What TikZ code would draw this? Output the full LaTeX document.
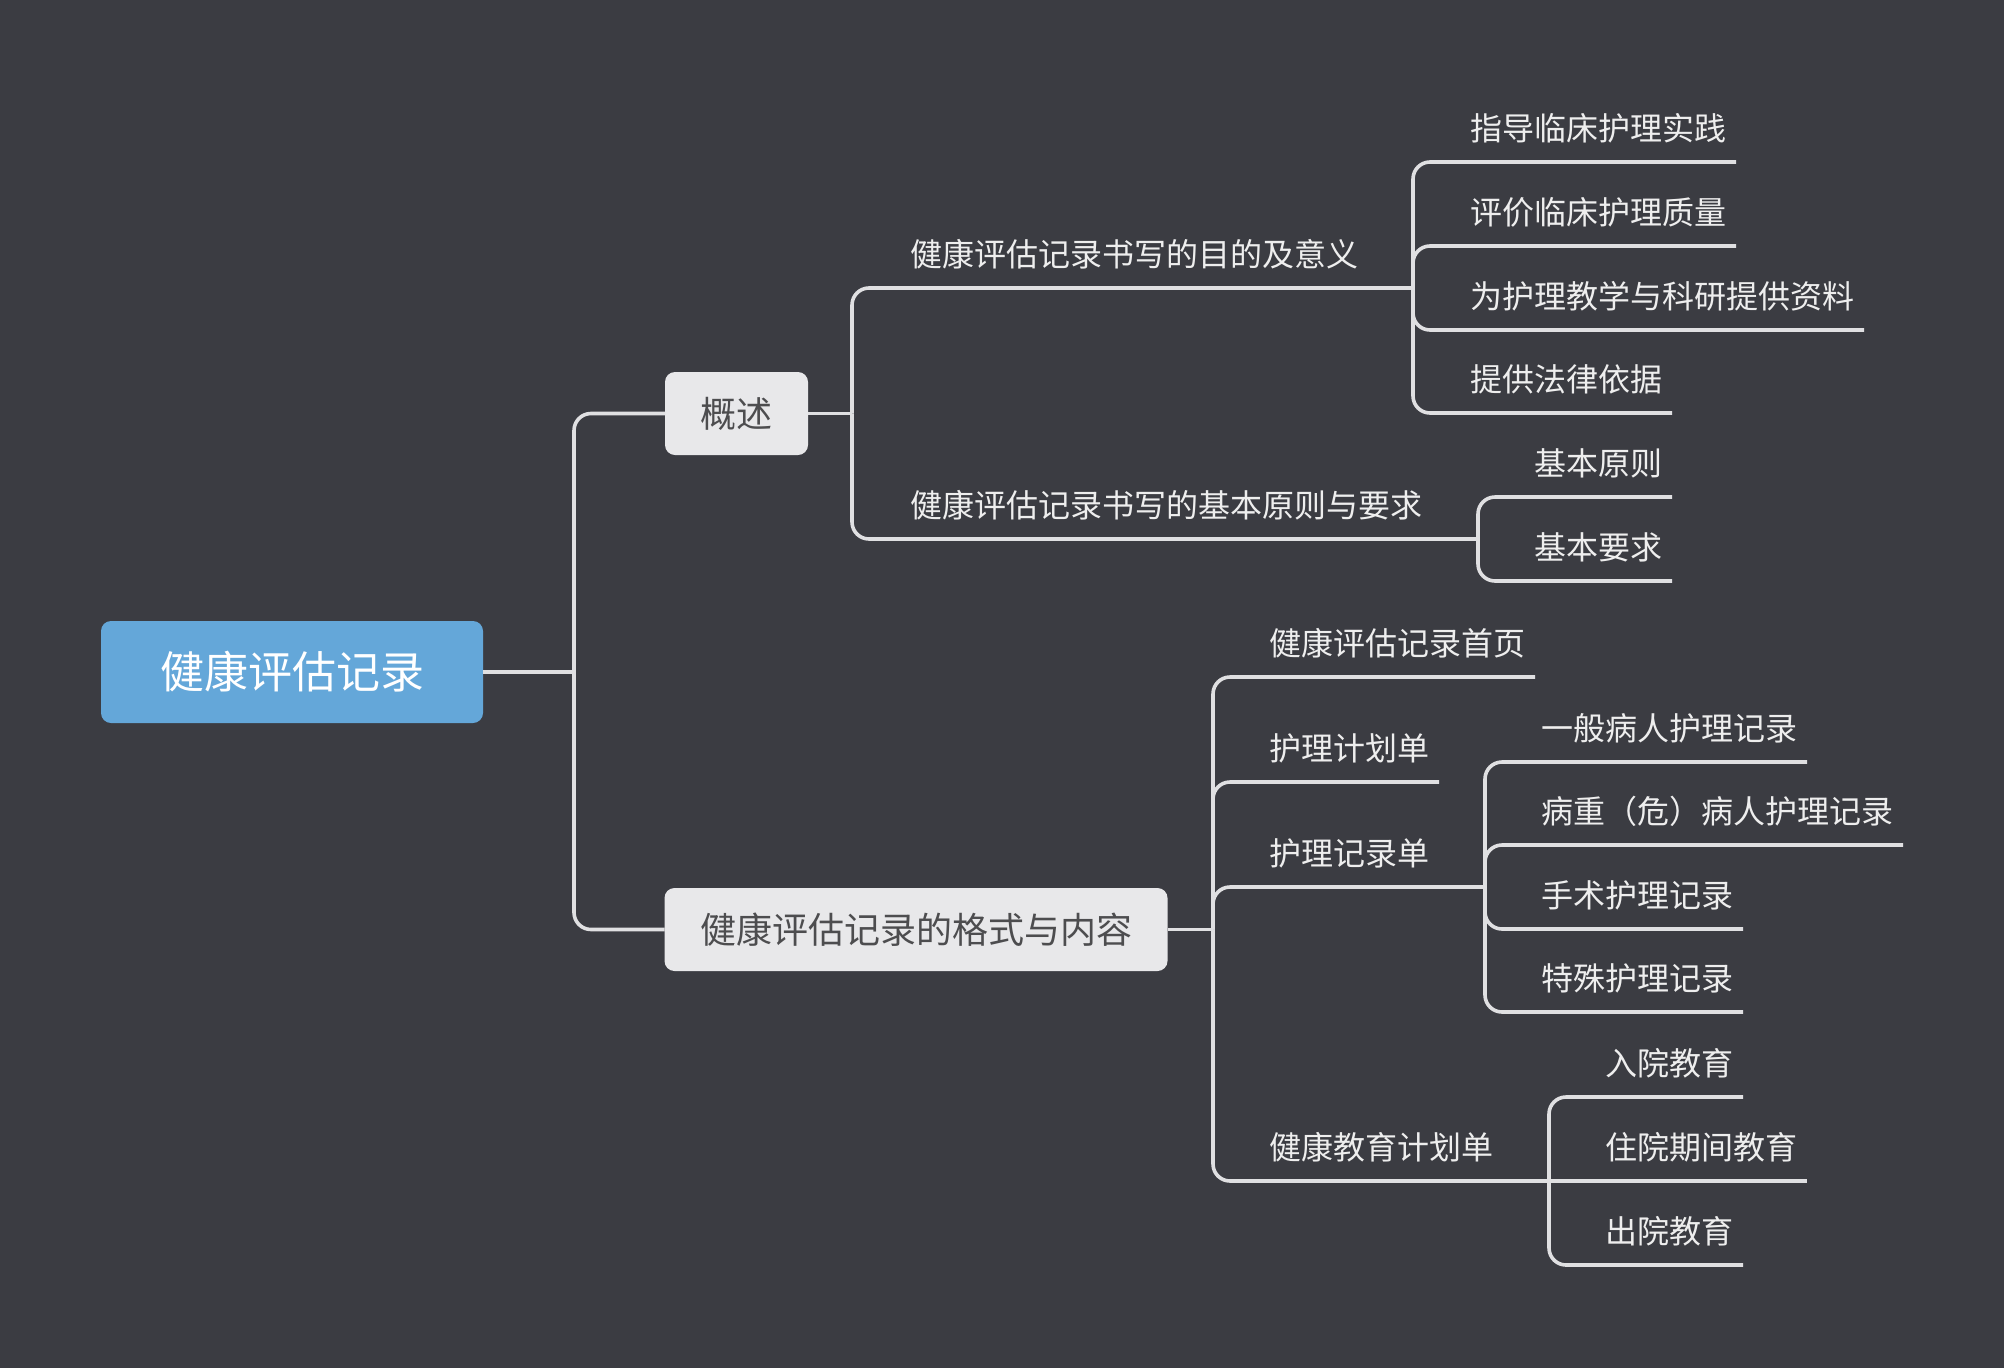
\documentclass[tikz,border=0pt]{standalone}
\usepackage{fontspec}
\setmainfont{Noto Sans CJK SC}
\definecolor{bg}{HTML}{3B3C42}
\definecolor{linec}{HTML}{E0E0E2}
\definecolor{leaftext}{HTML}{EEEEEE}
\definecolor{boxfill}{HTML}{E8E8EA}
\definecolor{boxtext}{HTML}{4D4D4F}
\definecolor{rootfill}{HTML}{64A7D9}
\begin{document}
\begin{tikzpicture}[x=1pt,y=-1pt,
  conn/.style={draw=linec, line width=3.6pt, rounded corners=17pt},
  leaf/.style={anchor=south west, inner xsep=10pt, inner ysep=0pt, outer sep=0pt,
    text height=24pt, text depth=22pt, font=\fontsize{32}{38}\selectfont, text=leaftext},
  topic/.style={rounded corners=10pt, fill=boxfill, text=boxtext, outer sep=0pt,
    font=\fontsize{36}{43}\selectfont, inner xsep=35.5pt, inner ysep=0pt,
    minimum height=83pt, text height=31.7pt, text depth=4.3pt},
  rootbox/.style={rounded corners=10pt, fill=rootfill, text=white, outer sep=0pt,
    font=\fontsize{44}{52}\selectfont, inner sep=0pt,
    minimum width=382pt, minimum height=102pt, text height=38.7pt, text depth=5.3pt}]
\fill[bg] (0,0) rectangle (2004,1368);
\useasboundingbox (0,0) rectangle (2004,1368);

% nodes
\node[rootbox] (root) at (292,672) {健康评估记录};
\node[topic] (gs) at (736.5,413.5) {概述};
\node[topic] (gf) at (916,929.5) {健康评估记录的格式与内容};

\node[leaf] (A) at (900,288) {健康评估记录书写的目的及意义};
\node[leaf] (B) at (900,539) {健康评估记录书写的基本原则与要求};
\node[leaf] (A1) at (1460,162) {指导临床护理实践};
\node[leaf] (A2) at (1460,246) {评价临床护理质量};
\node[leaf] (A3) at (1460,330) {为护理教学与科研提供资料};
\node[leaf] (A4) at (1460,413) {提供法律依据};
\node[leaf] (B1) at (1524,497) {基本原则};
\node[leaf] (B2) at (1524,581) {基本要求};

\node[leaf] (C) at (1259,677) {健康评估记录首页};
\node[leaf] (D) at (1259,782) {护理计划单};
\node[leaf] (E) at (1259,887) {护理记录单};
\node[leaf] (F) at (1259,1181) {健康教育计划单};
\node[leaf] (E1) at (1531,762) {一般病人护理记录};
\node[leaf] (E2) at (1531,845) {病重（危）病人护理记录};
\node[leaf] (E3) at (1531,929) {手术护理记录};
\node[leaf] (E4) at (1531,1012) {特殊护理记录};
\node[leaf] (F1) at (1595,1097) {入院教育};
\node[leaf] (F2) at (1595,1181) {住院期间教育};
\node[leaf] (F3) at (1595,1265) {出院教育};

% junctions
\coordinate (J0) at (574,672);
\coordinate (J1) at (852,413.5);
\coordinate (JA) at (1413,288);
\coordinate (JB) at (1478,539);
\coordinate (J2) at (1213,929.5);
\coordinate (JE) at (1485,887);
\coordinate (JF) at (1549,1181);

% connectors
\draw[conn] (root.east) -- (J0);
\draw[conn] (J0) |- (gs.west);
\draw[conn] (J0) |- (gf.west);

\draw[conn] (gs.east) -- (J1);
\draw[conn] (J1) |- (A.south west) -- (A.south east) -- (JA);
\draw[conn] (J1) |- (B.south west) -- (B.south east) -- (JB);
\foreach \n in {A1,A2,A3,A4}
  \draw[conn] (JA) |- (\n.south west) -- (\n.south east);
\foreach \n in {B1,B2}
  \draw[conn] (JB) |- (\n.south west) -- (\n.south east);

\draw[conn] (gf.east) -- (J2);
\draw[conn] (J2) |- (C.south west) -- (C.south east);
\draw[conn] (J2) |- (D.south west) -- (D.south east);
\draw[conn] (J2) |- (E.south west) -- (E.south east) -- (JE);
\draw[conn] (J2) |- (F.south west) -- (F.south east) -- (JF);
\foreach \n in {E1,E2,E3,E4}
  \draw[conn] (JE) |- (\n.south west) -- (\n.south east);
\draw[conn] (JF) |- (F1.south west) -- (F1.south east);
\draw[conn] (JF) -- (F2.south west) -- (F2.south east);
\draw[conn] (JF) |- (F3.south west) -- (F3.south east);
\end{tikzpicture}
\end{document}
